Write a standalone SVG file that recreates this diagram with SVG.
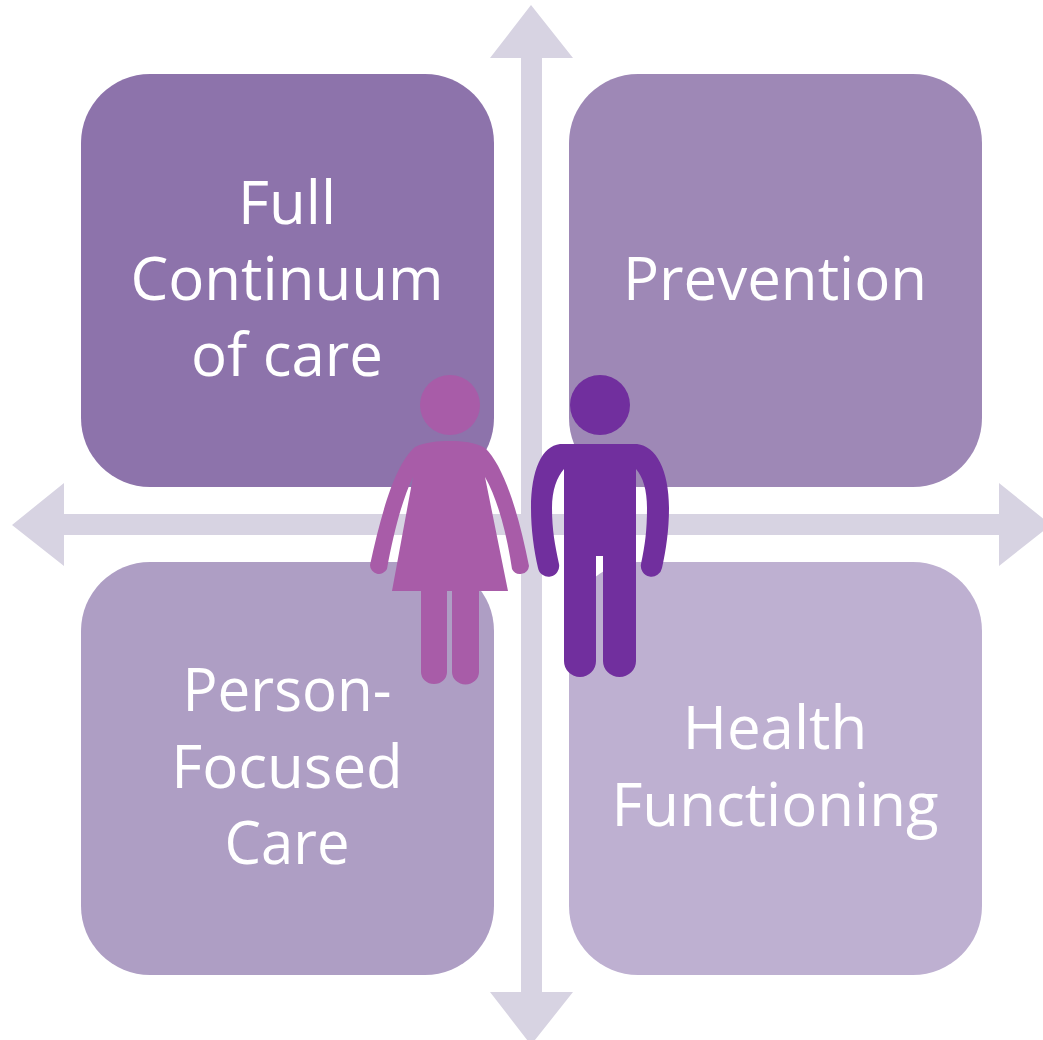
<svg xmlns="http://www.w3.org/2000/svg" width="1043" height="1040" viewBox="0 0 1043 1040">
<style>
.t{font-family:"Open Sans","Noto Sans",sans-serif;font-size:60px;fill:#fff;text-anchor:middle}
.a{fill:#d7d3e2}
</style>
<rect width="1043" height="1040" fill="#fff"/>
<g id="connectors">
<path class="a" d="M531 5L573 58H542V992H573L531 1045L490 992H521V58H490Z"/>
<path class="a" d="M12 525L64 483V514H999V483L1051 525L999 566V535H64V566Z"/>
</g>
<g id="n1"><rect x="81" y="74" width="413" height="413" rx="69" fill="#8d73ab"/><text class="t" x="287" y="224">Full</text><text class="t" x="287" y="300">Continuum</text><text class="t" x="287" y="376">of care</text></g>
<g id="n2"><rect x="569" y="74" width="413" height="413" rx="69" fill="#9e88b6"/><text class="t" x="775" y="300">Prevention</text></g>
<g id="n3"><rect x="81" y="562" width="413" height="413" rx="69" fill="#ae9ec4"/><text class="t" x="287" y="711" textLength="209" lengthAdjust="spacingAndGlyphs">Person-</text><text class="t" x="287" y="788">Focused</text><text class="t" x="287" y="864" textLength="125" lengthAdjust="spacingAndGlyphs">Care</text></g>
<g id="n4"><rect x="569" y="562" width="413" height="413" rx="69" fill="#beb0d1"/><text class="t" x="775" y="749">Health</text><text class="t" x="775" y="826">Functioning</text></g>
<g id="woman" fill="#a85ca8">
<circle cx="450" cy="405" r="30"/>
<path d="M415 447C425 442 438 441 450 441C462 441 475 442 485 448C503 465 518 510 529 566A9 9 0 0 1 512 569C507 535 498 500 485 477L508 591H479V672A13 12 0 0 1 452 672V591H447V672A13 12 0 0 1 421 672V591H392L413 477C402 500 393 535 387 569A9 9 0 0 1 370 565C382 510 395 465 415 447Z"/>
</g>
<g id="man" fill="#712f9e">
<circle cx="600" cy="405" r="30"/>
<path d="M560 444H637C656 446 669 470 669 508C669 530 666 550 662 568A10.500 10.500 0 0 1 641 564C645 545 647 530 647 508C647 490 643 477 636 469V661A16.500 16 0 0 1 603 661V556H596V661A16 16 0 0 1 564 661V469C557 477 552 490 552 508C552 530 555 545 559 564A10.500 10.500 0 0 1 538 568C534 550 531 530 531 508C531 470 542 446 560 444Z"/>
</g>
</svg>
